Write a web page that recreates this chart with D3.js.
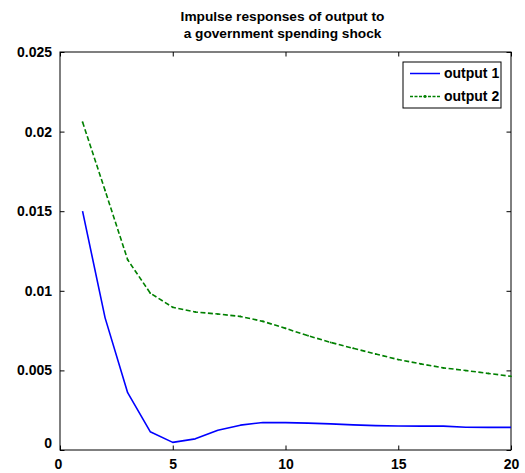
<!DOCTYPE html>
<html>
<head>
<meta charset="utf-8">
<script src="https://cdn.jsdelivr.net/npm/d3@7"></script>
<style>
  html, body { margin: 0; padding: 0; background: #fff; }
  svg { display: block; }
  text { font-family: "Liberation Sans", Arial, sans-serif; font-weight: bold; fill: #000; }
</style>
</head>
<body>
<svg id="chart" width="525" height="473"></svg>
<script>
// Impulse response horizon (periods)
const periods = [1, 2, 3, 4, 5, 6, 7, 8, 9, 10, 11, 12, 13, 14, 15, 16, 17, 18, 19, 20];

// Response of output 1 to a government spending shock
const output1 = [0.0150, 0.0083, 0.0036, 0.00115, 0.00048, 0.00070, 0.00124, 0.00156, 0.00173, 0.00172,
                 0.00169, 0.00164, 0.00158, 0.00153, 0.00151, 0.00150, 0.00150, 0.00143, 0.00142, 0.00142];

// Response of output 2 to a government spending shock
const output2 = [0.0206, 0.0163, 0.01195, 0.00986, 0.00896, 0.00867, 0.00854, 0.00839, 0.00808, 0.00764,
                 0.00718, 0.00676, 0.00639, 0.00603, 0.00568, 0.00541, 0.00516, 0.00499, 0.00481, 0.00463];

const seriesNames = ["output 1", "output 2"];
const titleLines = ["Impulse responses of output to", "a government spending shock"];

const xTicks = [0, 5, 10, 15, 20];
const xTickLabels = ["0", "5", "10", "15", "20"];
const yTicks = [0, 0.005, 0.01, 0.015, 0.02, 0.025];
const yTickLabels = ["0", "0.005", "0.01", "0.015", "0.02", "0.025"];

const svg = d3.select("#chart");
const margin = { left: 60, right: 14, top: 52, bottom: 23 };
const W = 525, H = 473;
const x0 = margin.left, x1 = W - margin.right;
const y0 = H - margin.bottom, y1 = margin.top;

const x = d3.scaleLinear().domain([0, 20]).range([x0, x1]);
const y = d3.scaleLinear().domain([0, 0.025]).range([y0, y1]);

const fs = 14;
const tickLen = 4.5;

// Title
svg.append("g").selectAll("text").data(titleLines).join("text")
  .attr("x", (x0 + x1) / 2 - 3)
  .attr("y", (d, i) => 21 + i * 16.5)
  .attr("text-anchor", "middle")
  .attr("font-size", 13.7)
  .text(d => d);

// Axes (ticks inside, mirrored on top and right)
const xAxisB = d3.axisBottom(x).tickValues(xTicks).tickSizeInner(-tickLen).tickSizeOuter(0)
  .tickPadding(8).tickFormat((d, i) => xTickLabels[i]);
const xAxisT = d3.axisTop(x).tickValues(xTicks).tickSizeInner(-tickLen).tickSizeOuter(0).tickFormat("");
const yAxisL = d3.axisLeft(y).tickValues(yTicks).tickSizeInner(-tickLen).tickSizeOuter(0)
  .tickPadding(8).tickFormat((d, i) => yTickLabels[i]);
const yAxisR = d3.axisRight(y).tickValues(yTicks).tickSizeInner(-tickLen).tickSizeOuter(0).tickFormat("");

function styleAxis(g) {
  g.select(".domain").remove();
  g.selectAll(".tick line").attr("stroke", "#000").attr("stroke-width", 1);
  g.selectAll("text").attr("font-size", fs).attr("font-family", "Liberation Sans, Arial, sans-serif")
    .attr("font-weight", "bold").attr("fill", "#000");
}

const gxB = svg.append("g").attr("transform", `translate(0,${y0})`).call(xAxisB).call(styleAxis);
gxB.selectAll(".tick text").attr("dy", "0.78em");
gxB.selectAll(".tick").filter(d => d === 0).select("text").attr("dx", -2);
svg.append("g").attr("transform", `translate(0,${y1})`).call(xAxisT).call(styleAxis);
const gyL = svg.append("g").attr("transform", `translate(${x0},0)`).call(yAxisL).call(styleAxis);
gyL.selectAll(".tick").filter(d => d === 0).select("text").attr("dy", "-0.15em");
svg.append("g").attr("transform", `translate(${x1},0)`).call(yAxisR).call(styleAxis);

// Plot box
svg.append("rect")
  .attr("x", x0).attr("y", y1).attr("width", x1 - x0).attr("height", y0 - y1)
  .attr("fill", "none").attr("stroke", "#000").attr("stroke-width", 1);

const line = d3.line().x(d => x(d[0])).y(d => y(d[1]));
const d1 = periods.map((p, i) => [p, output1[i]]);
const d2 = periods.map((p, i) => [p, output2[i]]);

svg.append("path").datum(d1).attr("d", line)
  .attr("fill", "none").attr("stroke", "#0000ff").attr("stroke-width", 1.6)
  .attr("stroke-linejoin", "round");

svg.append("path").datum(d2).attr("d", line)
  .attr("fill", "none").attr("stroke", "#008000").attr("stroke-width", 1.6)
  .attr("stroke-dasharray", "5,2.5");

svg.append("g").selectAll("circle").data(d2).join("circle")
  .attr("cx", d => x(d[0])).attr("cy", d => y(d[1])).attr("r", 0.9).attr("fill", "#008000");

// Legend
const lg = svg.append("g").attr("transform", `translate(${x1 - 108},${y1 + 10})`);
lg.append("rect").attr("x", 0).attr("y", 0).attr("width", 98).attr("height", 46)
  .attr("fill", "#fff").attr("stroke", "#000").attr("stroke-width", 1);
const rows = [
  { name: seriesNames[0], color: "#0000ff", dash: null, dot: false },
  { name: seriesNames[1], color: "#008000", dash: "3,1.5", dot: true }
];
rows.forEach((r, i) => {
  const cy = 11.5 + i * 23;
  lg.append("line").attr("x1", 7).attr("x2", 37).attr("y1", cy).attr("y2", cy)
    .attr("stroke", r.color).attr("stroke-width", 1.5)
    .attr("stroke-dasharray", r.dash);
  if (r.dot) {
    lg.append("circle").attr("cx", 22).attr("cy", cy).attr("r", 1.4).attr("fill", r.color);
  }
  lg.append("text").attr("x", 41).attr("y", cy).attr("dy", "0.35em")
    .attr("font-size", fs).text(r.name);
});
</script>
</body>
</html>
